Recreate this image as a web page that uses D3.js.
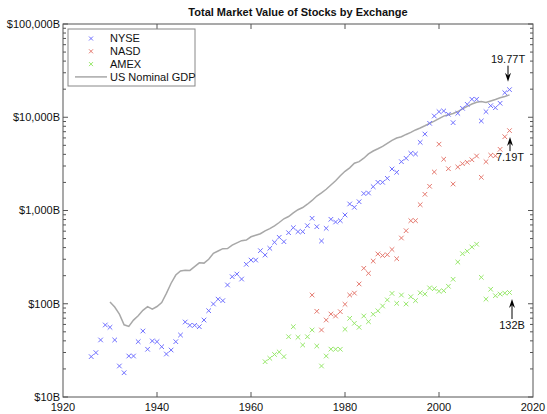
<!DOCTYPE html>
<html>
<head>
<meta charset="utf-8">
<script src="https://cdn.jsdelivr.net/npm/d3@7"></script>
<style>
  body { margin: 0; background: #fff; }
  text { font-family: "Liberation Sans", Arial, sans-serif; fill: #111; }
</style>
</head>
<body>
<svg id="chart" width="547" height="414"></svg>
<script>
// Market value of stocks, billions of dollars, one value per year
const nyseStart = 1926;
const nyseValues = [
    27.1, 29.9, 40.9, 59.2, 55.9, 40.9, 21.5, 18.2, 27.5, 27.5,
    39.2, 51.0, 32.5, 39.9, 39.2, 34.6, 28.9, 31.9, 39.2, 46.2,
    63.7, 58.7, 58.7, 56.7, 66.9, 84.2, 99.4, 112, 108, 159,
    195, 208, 184, 265, 294, 294, 371, 333, 393, 456,
    516, 463, 578, 654, 593, 593, 687, 825, 670, 471,
    644, 805, 753, 778, 895, 1175, 1082, 1242, 1521, 1541,
    1800, 2006, 2006, 2214, 2787, 2569, 3337, 3630, 4102, 4036,
    5385, 6607, 8610, 10310, 11480, 11670, 10760, 8750, 11020, 12470,
    13770, 15590, 15590, 9120, 11480, 13300, 12650, 14120, 18330, 19770
];

const nasdStart = 1973;
const nasdValues = [
    124, 83, 52.3, 66.9, 77.6, 73.9, 82.2, 98.6, 124, 130,
    163, 240, 212, 287, 342, 329, 336, 382, 304, 507,
    607, 778, 778, 1154, 1492, 1818, 2588, 5140, 3548, 2806,
    1923, 2926, 3177, 3289, 3499, 3838, 2270, 3337, 3917, 3864,
    4529, 6183, 7190
];

const amexStart = 1963;
const amexValues = [
    23.9, 26.0, 28.6, 30.4, 27.1, 44.3, 56.7, 43.7, 36.1, 44.3,
    52.3, 35.2, 21.5, 27.5, 32.6, 32.5, 32.5, 53.2, 69.8, 61.7,
    55.9, 73.9, 64.2, 77.1, 84, 94.6, 110, 129, 101, 124,
    99.4, 119, 108, 131, 127, 148, 145, 136, 138, 154,
    183, 280, 344, 366, 406, 435, 192, 112, 143, 122,
    127, 130, 132
];

// US nominal GDP, billions (plotted at year end)
const gdpStart = 1930;
const gdpValues = [
    104.6, 92.2, 77.4, 59.5, 57.2, 66.8, 74.3, 84.9, 93.0, 87.4,
    93.4, 102.9, 129.3, 166.0, 203.1, 224.6, 228.2, 227.8, 249.9, 274.8,
    272.8, 300.2, 347.3, 367.7, 389.7, 391.1, 426.2, 450.1, 474.9, 482.0,
    522.5, 543.3, 563.3, 605.1, 638.6, 685.8, 743.7, 815.0, 861.7, 942.5,
    1019.9, 1075.9, 1167.8, 1282.4, 1428.5, 1548.8, 1688.9, 1877.6, 2086.0, 2356.6,
    2632.1, 2862.5, 3211.0, 3345.0, 3638.1, 4040.7, 4346.7, 4590.2, 4870.2, 5252.6,
    5657.7, 5979.6, 6174.0, 6539.3, 6878.7, 7308.8, 7664.1, 8100.2, 8608.5, 9089.2,
    9660.6, 10284.8, 10621.8, 10977.5, 11510.7, 12274.9, 13093.7, 13855.9, 14477.6, 14718.6,
    14418.7, 14964.4, 15517.9, 16155.3, 16691.5, 17393.1
];

const xTicks = [1920, 1940, 1960, 1980, 2000, 2020];
const yTicks = [10, 100, 1000, 10000, 100000];

const series = [
    { name: 'NYSE', start: nyseStart, values: nyseValues, color: '#7070ff', note: 'down' },
    { name: 'NASD', start: nasdStart, values: nasdValues, color: '#e57a70', note: 'up' },
    { name: 'AMEX', start: amexStart, values: amexValues, color: '#98e86c', note: 'up' }
];

const toPoints = (start, values) => values.map((v, i) => ({ year: start + i, value: v }));

const svg = d3.select('#chart');
const margin = { top: 24, right: 14, bottom: 17, left: 63 };
const width = 547, height = 414;

const x = d3.scaleLinear().domain([1920, 2020]).range([margin.left, width - margin.right]);
const y = d3.scaleLog().domain([10, 100000]).range([height - margin.bottom, margin.top]);

const axisColor = '#555';

// title
svg.append('text')
    .attr('x', (x.range()[0] + x.range()[1]) / 2)
    .attr('y', 16)
    .attr('text-anchor', 'middle')
    .style('font-size', '11px')
    .style('font-weight', 'bold')
    .text('Total Market Value of Stocks by Exchange');

// minor log ticks
const minorTicks = [];
for (let d = 10; d < 100000; d *= 10) {
    for (let k = 2; k <= 9; k++) minorTicks.push(d * k);
}

const frame = svg.append('g');
frame.append('rect')
    .attr('x', x.range()[0]).attr('y', y.range()[1])
    .attr('width', x.range()[1] - x.range()[0])
    .attr('height', y.range()[0] - y.range()[1])
    .attr('fill', 'none').attr('stroke', axisColor).attr('stroke-width', 1);

// y ticks, left and right, pointing inward
[[x.range()[0], 1], [x.range()[1], -1]].forEach(([xp, dir]) => {
    frame.selectAll(null).data(yTicks).enter().append('line')
        .attr('x1', xp).attr('x2', xp + dir * 5)
        .attr('y1', d => y(d)).attr('y2', d => y(d))
        .attr('stroke', axisColor);
    frame.selectAll(null).data(minorTicks).enter().append('line')
        .attr('x1', xp).attr('x2', xp + dir * 3)
        .attr('y1', d => y(d)).attr('y2', d => y(d))
        .attr('stroke', axisColor);
});

// x ticks, bottom and top, pointing inward
[[y.range()[0], -1], [y.range()[1], 1]].forEach(([yp, dir]) => {
    frame.selectAll(null).data(xTicks.slice(1, -1)).enter().append('line')
        .attr('x1', d => x(d)).attr('x2', d => x(d))
        .attr('y1', yp).attr('y2', yp + dir * 5)
        .attr('stroke', axisColor);
});

svg.selectAll('.ylab').data(yTicks).enter().append('text')
    .attr('class', 'ylab')
    .attr('x', x.range()[0] - 3)
    .attr('y', d => y(d))
    .attr('dy', '0.35em')
    .attr('text-anchor', 'end')
    .style('font-size', '11px')
    .text(d => '$' + d3.format(',')(d) + 'B');

svg.selectAll('.xlab').data(xTicks).enter().append('text')
    .attr('class', 'xlab')
    .attr('x', d => x(d))
    .attr('y', y.range()[0] + 14)
    .attr('text-anchor', 'middle')
    .style('font-size', '11px')
    .text(d => d);

// GDP line
const line = d3.line().x(d => x(d.year)).y(d => y(d.value));
svg.append('path')
    .datum(toPoints(gdpStart, gdpValues))
    .attr('d', line)
    .attr('fill', 'none')
    .attr('stroke', '#a8a8a8')
    .attr('stroke-width', 1.5);

// cross markers
const cross = (s) => `M${-s},${-s}L${s},${s}M${-s},${s}L${s},${-s}`;

series.forEach(s => {
    svg.append('g').selectAll('path')
        .data(toPoints(s.start, s.values))
        .enter().append('path')
        .attr('transform', d => `translate(${x(d.year)},${y(d.value)})`)
        .attr('d', cross(2.3))
        .attr('stroke', s.color)
        .attr('stroke-width', 1)
        .attr('fill', 'none');
});

// annotations at the last value of each series
const fmtValue = v => v >= 1000 ? (v / 1000).toFixed(2) + 'T' : v + 'B';

const arrowHead = (px, py, dir) =>
    `M${px},${py}L${px - 3},${py - dir * 9}L${px},${py - dir * 6}L${px + 3},${py - dir * 9}Z`;

const notes = svg.append('g');
series.forEach((s, i) => {
    const last = s.values[s.values.length - 1];
    const year = s.start + s.values.length - 1;
    const px = x(year) + [-1.5, 0.5, 2.5][i];
    const py = y(last);
    if (s.note === 'down') {
        const tip = py - 8;
        notes.append('line').attr('x1', px).attr('x2', px).attr('y1', tip - 16).attr('y2', tip - 4)
            .attr('stroke', '#000');
        notes.append('path').attr('d', arrowHead(px, tip, 1)).attr('fill', '#000');
        notes.append('text').attr('x', px).attr('y', tip - 19)
            .attr('text-anchor', 'middle').style('font-size', '11px').text(fmtValue(last));
    } else {
        const tip = py + 6.5;
        const len = i === 1 ? 14 : 20;
        notes.append('line').attr('x1', px).attr('x2', px).attr('y1', tip + 4).attr('y2', tip + len)
            .attr('stroke', '#000');
        notes.append('path').attr('d', arrowHead(px, tip, -1)).attr('fill', '#000');
        notes.append('text').attr('x', px).attr('y', tip + len + 10)
            .attr('text-anchor', 'middle').style('font-size', '11px').text(fmtValue(last));
    }
});

// legend
const legend = svg.append('g').attr('transform', 'translate(68,29)');
legend.append('rect')
    .attr('width', 127).attr('height', 57)
    .attr('fill', '#fff').attr('stroke', '#888');

const legendItems = series.map(s => ({ name: s.name, color: s.color, type: 'mark' }))
    .concat([{ name: 'US Nominal GDP', color: '#a8a8a8', type: 'line' }]);

const rows = legend.selectAll('.row').data(legendItems).enter().append('g')
    .attr('transform', (d, i) => `translate(0,${9.5 + i * 12.8})`);

rows.filter(d => d.type === 'mark').append('path')
    .attr('transform', 'translate(23,0)')
    .attr('d', cross(2))
    .attr('stroke', d => d.color)
    .attr('fill', 'none');

rows.filter(d => d.type === 'line').append('line')
    .attr('x1', 7).attr('x2', 39).attr('y1', 0).attr('y2', 0)
    .attr('stroke', d => d.color).attr('stroke-width', 1.5);

rows.append('text')
    .attr('x', 42).attr('dy', '0.36em')
    .style('font-size', '11px')
    .text(d => d.name);
</script>
</body>
</html>
